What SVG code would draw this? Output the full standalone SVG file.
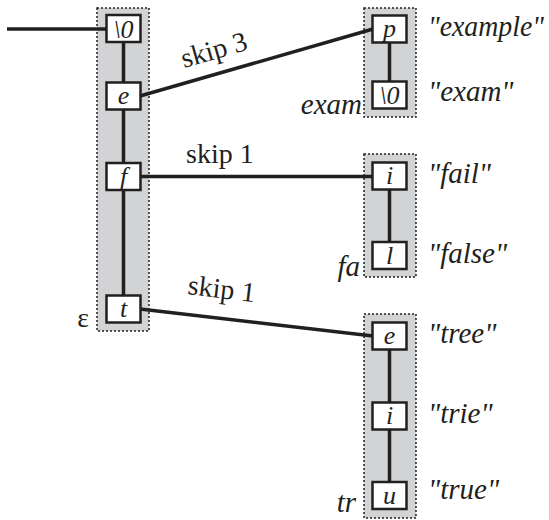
<svg xmlns="http://www.w3.org/2000/svg" width="549" height="520" viewBox="0 0 549 520">
<style>
.grp{fill:#d1d3d4;stroke:#231f20;stroke-width:1.5;stroke-dasharray:2,2}
.box{fill:#fff;stroke:#231f20;stroke-width:2.5}
.ln{stroke:#231f20;stroke-width:3.5;fill:none}
.t{fill:#231f20;font-size:28px}
.it{font-style:italic;font-size:29px}
.nl{fill:#231f20;font-size:26px;font-style:italic;text-anchor:middle}
</style>
<rect width="549" height="520" fill="#fff"/>
<g id="groups">
<rect class="grp" x="97" y="8" width="52" height="323"/>
<rect class="grp" x="364" y="8" width="52" height="109"/>
<rect class="grp" x="364" y="154" width="52" height="123"/>
<rect class="grp" x="364" y="314" width="52" height="204"/>
</g>
<g id="connectors" font-family="Liberation Serif, serif">
<line class="ln" x1="7" y1="29" x2="107" y2="29"/>
<line class="ln" x1="123.5" y1="42" x2="123.5" y2="296"/>
<line class="ln" x1="389.5" y1="42" x2="389.5" y2="83"/>
<line class="ln" x1="389.5" y1="189" x2="389.5" y2="243"/>
<line class="ln" x1="389.5" y1="349" x2="389.5" y2="483"/>
<line class="ln" x1="140" y1="96" x2="373" y2="29"/>
<line class="ln" x1="140" y1="176.5" x2="373" y2="176.5"/>
<line class="ln" x1="140" y1="309" x2="373" y2="336"/>
<text class="t" transform="translate(184,68) rotate(-16)">skip 3</text>
<text class="t" x="186" y="163">skip 1</text>
<text class="t" transform="translate(187,294) rotate(7)">skip 1</text>
</g>
<g font-family="Liberation Serif, serif">
<g id="n-root0"><rect class="box" x="106.5" y="15" width="34" height="27"/><text class="nl" x="123.5" y="37.5">\0</text></g>
<g id="n-e"><rect class="box" x="106.5" y="82.5" width="34" height="27"/><text class="nl" x="123.5" y="104">e</text></g>
<g id="n-f"><rect class="box" x="106.5" y="163" width="34" height="27"/><text class="nl" x="123.5" y="184.5">f</text></g>
<g id="n-t"><rect class="box" x="106.5" y="295.5" width="34" height="27"/><text class="nl" x="123.5" y="317">t</text></g>
<text class="t" x="89" y="327" text-anchor="end">ε</text>
<g id="n-p"><rect class="box" x="372.5" y="15.5" width="34" height="27"/><text class="nl" x="389.5" y="37">p</text></g>
<g id="n-exam0"><rect class="box" x="372.5" y="81.5" width="34" height="27"/><text class="nl" x="389.5" y="104">\0</text></g>
<g id="n-i1"><rect class="box" x="372.5" y="162.5" width="34" height="27"/><text class="nl" x="389.5" y="184">i</text></g>
<g id="n-l"><rect class="box" x="372.5" y="242" width="34" height="27"/><text class="nl" x="389.5" y="263.5">l</text></g>
<g id="n-e2"><rect class="box" x="372.5" y="322.5" width="34" height="27"/><text class="nl" x="389.5" y="344">e</text></g>
<g id="n-i2"><rect class="box" x="372.5" y="402.5" width="34" height="27"/><text class="nl" x="389.5" y="424">i</text></g>
<g id="n-u"><rect class="box" x="372.5" y="482" width="34" height="27"/><text class="nl" x="389.5" y="503.5">u</text></g>
<g id="labels">
<text class="t it" x="428" y="36" textLength="116" lengthAdjust="spacingAndGlyphs">"example"</text>
<text class="t it" x="428" y="101">"exam"</text>
<text class="t it" x="428" y="183">"fail"</text>
<text class="t it" x="428" y="263">"false"</text>
<text class="t it" x="428" y="343">"tree"</text>
<text class="t it" x="428" y="423">"trie"</text>
<text class="t it" x="428" y="499">"true"</text>
<text class="t it" x="362" y="114" text-anchor="end">exam</text>
<text class="t it" x="360" y="276" text-anchor="end">fa</text>
<text class="t it" x="356" y="512" text-anchor="end">tr</text>
</g>
</g>
</svg>
